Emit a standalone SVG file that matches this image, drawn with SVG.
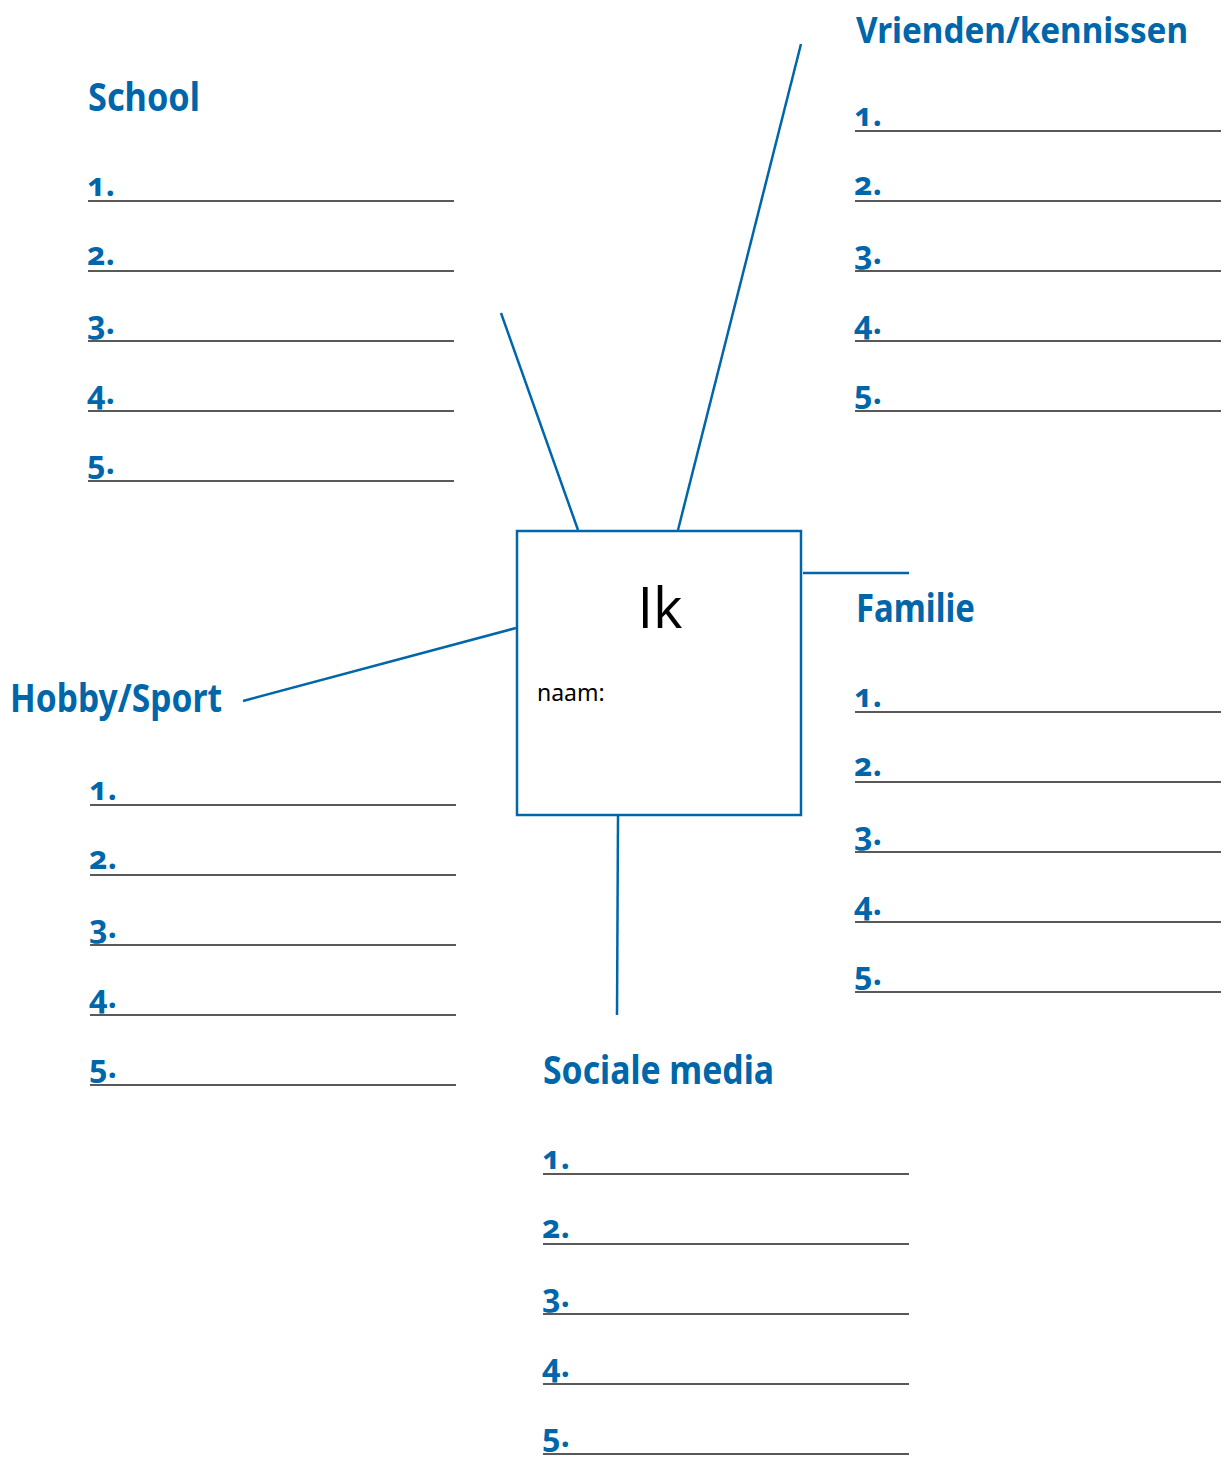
<svg xmlns="http://www.w3.org/2000/svg" width="1225" height="1457" viewBox="0 0 1225 1457">
<style>
.title{font-family:"Noto Sans","Open Sans",sans-serif;font-weight:bold;font-size:40px;fill:#0066aa}
.num{font-family:"Noto Sans","Open Sans",sans-serif;font-weight:bold;font-size:32px;fill:#0066aa;font-variant-numeric:oldstyle-nums}
.rule{stroke:#222;stroke-width:1.3;fill:none}
.conn{stroke:#0066aa;stroke-width:2.5;fill:none}
.box{stroke:#0066aa;stroke-width:2.5;fill:#fff}
</style>
<defs>
<g id="list">
<text class="num" x="-1" y="-5">1.</text><line class="rule" x1="0" y1="0" x2="366" y2="0"/>
<text class="num" x="-1" y="64">2.</text><line class="rule" x1="0" y1="70" x2="366" y2="70"/>
<text class="num" x="-1" y="133">3.</text><line class="rule" x1="0" y1="140" x2="366" y2="140"/>
<text class="num" x="-1" y="203">4.</text><line class="rule" x1="0" y1="210" x2="366" y2="210"/>
<text class="num" x="-1" y="273">5.</text><line class="rule" x1="0" y1="280" x2="366" y2="280"/>
</g>
</defs>
<g id="connectors">
<line class="conn" x1="501" y1="313" x2="578" y2="530"/>
<line class="conn" x1="801" y1="44" x2="678" y2="530"/>
<line class="conn" x1="803" y1="573" x2="909" y2="573"/>
<line class="conn" x1="243" y1="701" x2="516" y2="628"/>
<line class="conn" x1="618" y1="816" x2="617" y2="1015"/>
</g>
<g id="ik">
<rect class="box" x="517" y="531" width="284" height="284"/>
<text x="660" y="628" text-anchor="middle" style="font-family:'Open Sans','Noto Sans',sans-serif;font-weight:400;font-size:56px;fill:#000">Ik</text>
<text x="537" y="701" style="font-family:'Noto Sans','Open Sans',sans-serif;font-size:23px;fill:#000">naam:</text>
</g>
<g id="school">
<text class="title" x="88" y="111" textLength="112" lengthAdjust="spacingAndGlyphs">School</text>
<use href="#list" x="88" y="201"/>
</g>
<g id="vrienden">
<text class="title" x="856" y="43" style="font-size:36px" textLength="332" lengthAdjust="spacingAndGlyphs">Vrienden/kennissen</text>
<use href="#list" x="855" y="131"/>
</g>
<g id="familie">
<text class="title" x="856" y="622" textLength="119" lengthAdjust="spacingAndGlyphs">Familie</text>
<use href="#list" x="855" y="712"/>
</g>
<g id="hobby">
<text class="title" x="10" y="712" textLength="212" lengthAdjust="spacingAndGlyphs">Hobby/Sport</text>
<use href="#list" x="90" y="805"/>
</g>
<g id="sociale">
<text class="title" x="543" y="1084" textLength="231" lengthAdjust="spacingAndGlyphs">Sociale media</text>
<use href="#list" x="543" y="1174"/>
</g>
</svg>
